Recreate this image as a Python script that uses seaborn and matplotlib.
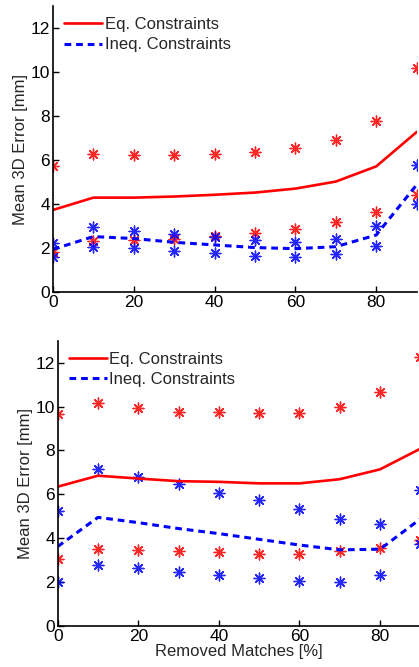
import numpy as np
import pandas as pd
import matplotlib
matplotlib.use("Agg")
import matplotlib.pyplot as plt
import seaborn as sns

# removed matches in percent
removed = [0, 10, 20, 30, 40, 50, 60, 70, 80, 90]

# top panel
eq_mean_a = [3.73, 4.29, 4.29, 4.34, 4.42, 4.52, 4.70, 5.02, 5.71, 7.27]
eq_hi_a = [5.71, 6.28, 6.25, 6.25, 6.28, 6.36, 6.53, 6.90, 7.77, 10.20]
eq_lo_a = [1.81, 2.31, 2.37, 2.40, 2.55, 2.70, 2.87, 3.16, 3.63, 4.39]
ineq_mean_a = [1.94, 2.52, 2.43, 2.26, 2.14, 2.02, 1.97, 2.06, 2.59, 4.87]
ineq_hi_a = [2.25, 2.94, 2.79, 2.64, 2.49, 2.37, 2.29, 2.40, 3.02, 5.78]
ineq_lo_a = [1.58, 2.06, 1.99, 1.88, 1.76, 1.65, 1.61, 1.71, 2.11, 4.00]

# bottom panel
eq_mean_b = [6.35, 6.85, 6.72, 6.60, 6.57, 6.50, 6.50, 6.69, 7.14, 8.08]
eq_hi_b = [9.65, 10.17, 9.94, 9.77, 9.76, 9.70, 9.73, 9.97, 10.68, 12.28]
eq_lo_b = [3.04, 3.53, 3.47, 3.40, 3.36, 3.30, 3.28, 3.40, 3.57, 3.92]
ineq_mean_b = [3.62, 4.95, 4.71, 4.44, 4.21, 3.95, 3.69, 3.47, 3.50, 4.88]
ineq_hi_b = [5.24, 7.16, 6.81, 6.46, 6.06, 5.73, 5.35, 4.89, 4.64, 6.20]
ineq_lo_b = [1.99, 2.78, 2.64, 2.45, 2.33, 2.19, 2.04, 2.01, 2.34, 3.74]

sns.set_style("white")
plt.rcParams['font.family'] = ['Liberation Sans', 'DejaVu Sans']

fig = plt.figure(figsize=(4.19, 6.67), dpi=100)
ax1 = fig.add_axes([0.1265, 0.5622, 0.8678, 0.4288])
ax2 = fig.add_axes([0.1377, 0.0615, 0.8656, 0.4276])

star = (8, 2, 0)

def panel(ax, eq_mean, eq_hi, eq_lo, ineq_mean, ineq_hi, ineq_lo):
    x = np.array(removed)
    for ys in (eq_hi, eq_lo):
        sns.scatterplot(x=x, y=ys, ax=ax, marker=star, color='red', s=60,
                        linewidth=1.0, alpha=0.85, clip_on=True, legend=False)
    for ys in (ineq_hi, ineq_lo):
        sns.scatterplot(x=x, y=ys, ax=ax, marker=star, color='blue', s=60,
                        linewidth=1.0, alpha=0.85, clip_on=True, legend=False)
    sns.lineplot(x=x, y=eq_mean, ax=ax, color='red', linewidth=1.9,
                 label='Eq. Constraints')
    sns.lineplot(x=x, y=ineq_mean, ax=ax, color='blue', linewidth=2.2,
                 linestyle=(0, (2.2, 1.6)), label='Ineq. Constraints')
    ax.set_xlim(0, 90)
    ax.set_ylim(0, 13)
    ax.set_xticks([0, 20, 40, 60, 80])
    ax.set_yticks([0, 2, 4, 6, 8, 10, 12])
    ax.set_ylabel("Mean 3D Error [mm]", fontsize=12, labelpad=2)
    ax.tick_params(direction='in', length=4, width=1, labelsize=12.5,
                   bottom=True, left=True, pad=2, colors='black')
    for s in ('top', 'right'):
        ax.spines[s].set_visible(False)
    for s in ('left', 'bottom'):
        ax.spines[s].set_color('black')
        ax.spines[s].set_linewidth(1.2)
    ax.legend(loc='upper left', frameon=False, fontsize=12,
              handlelength=2.3, handletextpad=0.15, borderaxespad=0.35,
              labelspacing=0.33, borderpad=0.3)

panel(ax1, eq_mean_a, eq_hi_a, eq_lo_a, ineq_mean_a, ineq_hi_a, ineq_lo_a)
panel(ax2, eq_mean_b, eq_hi_b, eq_lo_b, ineq_mean_b, ineq_hi_b, ineq_lo_b)
ax1.set_xlabel("")
ax2.set_xlabel("Removed Matches [%]", fontsize=12, labelpad=0)

fig.savefig("out.png", dpi=100)
